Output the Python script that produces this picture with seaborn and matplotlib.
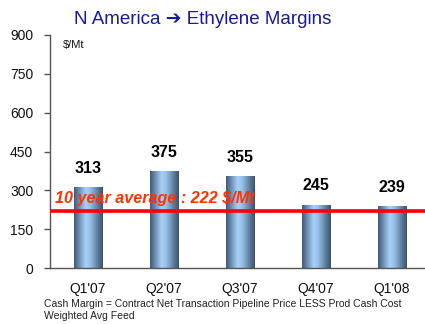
import matplotlib
matplotlib.use("Agg")
import matplotlib.pyplot as plt
import numpy as np
import pandas as pd
import seaborn as sns
from matplotlib.colors import LinearSegmentedColormap

quarters = ["Q1'07", "Q2'07", "Q3'07", "Q4'07", "Q1'08"]
margins = [313, 375, 355, 245, 239]
avg_10yr = 222

sns.set_theme(style="white")
plt.rcParams["font.family"] = ["Liberation Sans", "DejaVu Sans"]

df = pd.DataFrame({"quarter": quarters, "margin": margins})

fig = plt.figure(figsize=(4.25, 3.24), dpi=100)
ax = fig.add_axes([50 / 425, 56 / 324, 380 / 425, 233 / 324])

sns.barplot(data=df, x="quarter", y="margin", ax=ax, width=0.38,
            color="#7fa8d0", edgecolor="none", saturation=1)

# horizontal gradient on the bars
cmap = LinearSegmentedColormap.from_list(
    "bar", [(0, "#3f5c7a"), (0.4, "#a6d0f7"), (0.55, "#98c2ea"), (1, "#3a526b")])
grad = np.linspace(0, 1, 64).reshape(1, -1)
for p in ax.patches:
    x0, w, h = p.get_x(), p.get_width(), p.get_height()
    im = ax.imshow(grad, cmap=cmap, aspect="auto", extent=(x0, x0 + w, 0, h),
                   zorder=p.get_zorder() + 0.1)
    im.set_clip_path(p)

for i, v in enumerate(margins):
    ax.text(i, v + 72, str(v), ha="center", va="center", fontsize=11.5,
            fontweight="bold", color="black")

ax.axhline(avg_10yr, color="#ff0000", lw=2.6, zorder=5)
ax.text(0.012, 270, f"10 year average : {avg_10yr} $/Mt", transform=ax.get_yaxis_transform(),
        color="#ff3300", fontsize=11.6, fontweight="bold", fontstyle="italic",
        ha="left", va="center", zorder=6)

ax.set_xlim(-0.5, 4.5)
ax.set_ylim(0, 900)
ax.set_yticks(range(0, 901, 150))
ax.set_xlabel("")
ax.set_ylabel("")
ax.set_xticks(np.arange(-0.5, 4.6, 1), minor=True)
ax.tick_params(axis="x", which="major", length=0, pad=10, labelsize=10, labelcolor="#111111")
ax.tick_params(axis="x", which="minor", length=5, width=1, color="#555555", direction="out")
ax.tick_params(axis="y", length=4, width=1, color="#555555", direction="out",
               left=True, pad=8, labelsize=10, labelcolor="#111111")
for s in ["top", "right"]:
    ax.spines[s].set_visible(False)
for s in ["left", "bottom"]:
    ax.spines[s].set_color("#555555")
    ax.spines[s].set_linewidth(1)

ax.text(0.035, 0.957, "$/Mt", transform=ax.transAxes, fontsize=8, ha="left", va="center",
        color="#111111")

fig.text(203 / 425, 1 - 19.5 / 324, "N America \u2794 Ethylene Margins", ha="center",
         va="center", fontsize=13.5, color="#1a1a99")

fig.text(44 / 425, 1 - 304 / 324, "Cash Margin = Contract Net Transaction Pipeline Price LESS Prod Cash Cost",
         ha="left", va="center", fontsize=7.5, color="#222222")
fig.text(44 / 425, 1 - 316 / 324, "Weighted Avg Feed", ha="left", va="center",
         fontsize=7.5, color="#222222")

fig.savefig("out.png", dpi=100)
plt.close(fig)
